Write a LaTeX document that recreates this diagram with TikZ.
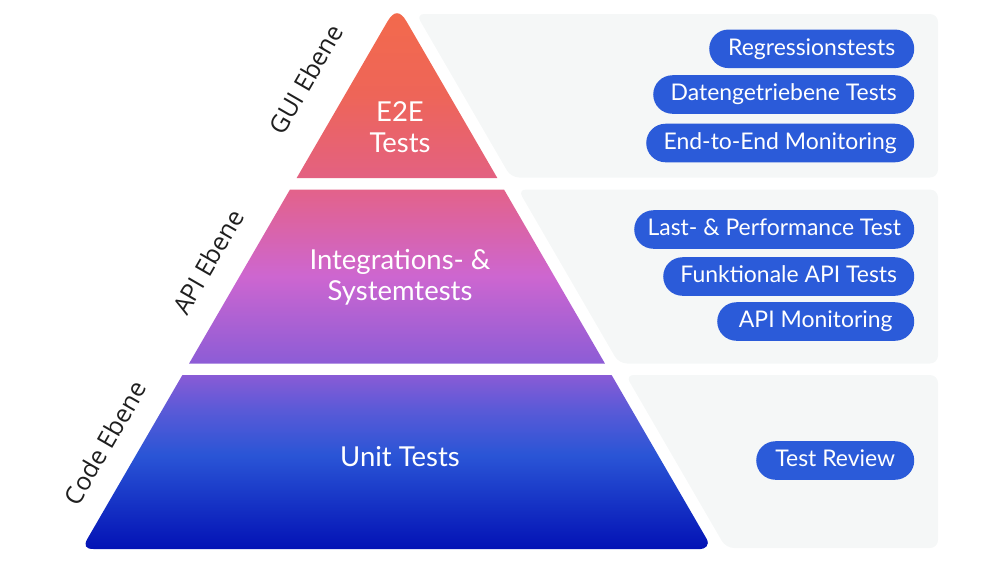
\documentclass[tikz,border=0pt]{standalone}
\usepackage{fontspec}
\setmainfont{Lato}
\newfontfamily\sidefont{Open Sans}
\definecolor{pillblue}{HTML}{2B5BD9}
\definecolor{panelgray}{HTML}{F5F7F7}
\definecolor{sidetext}{HTML}{1F1F1F}
\definecolor{tT}{HTML}{F36A4C}
\definecolor{tM}{HTML}{EE6558}
\definecolor{tB}{HTML}{E36182}
\definecolor{mT}{HTML}{E3628A}
\definecolor{mM}{HTML}{CD66D0}
\definecolor{mB}{HTML}{8C5CD6}
\definecolor{bT}{HTML}{895BD6}
\definecolor{bU}{HTML}{5A5AD7}
\definecolor{bM}{HTML}{2A55D6}
\definecolor{bB}{HTML}{0312B5}
\pgfdeclareverticalshading{shTop}{100bp}{color(0bp)=(tB); color(25bp)=(tB); color(50bp)=(tM); color(75bp)=(tT); color(100bp)=(tT)}
\pgfdeclareverticalshading{shMid}{100bp}{color(0bp)=(mB); color(25bp)=(mB); color(50bp)=(mM); color(75bp)=(mT); color(100bp)=(mT)}
\pgfdeclareverticalshading{shBot}{100bp}{color(0bp)=(bB); color(25bp)=(bB); color(52bp)=(bM); color(65bp)=(bU); color(75bp)=(bT); color(100bp)=(bT)}
\tikzset{
  pill/.style={fill=pillblue, text=white, rounded corners=14.4pt, minimum height=28.9pt,
    inner sep=0pt, anchor=east, font=\fontsize{17.2}{20}\selectfont,
    text height=12.3pt, text depth=2.6pt},
  mainlabel/.style={text=white, align=center, inner sep=0pt,
    font=\fontsize{20.6}{23.25}\selectfont},
  sidelabel/.style={text=sidetext, rotate=60, inner sep=0pt,
    font=\sidefont\fontsize{18.6}{22}\selectfont},
  panel/.style={fill=panelgray, rounded corners=6pt}
}
\begin{document}
\begin{tikzpicture}[x=0.75pt,y=-0.75pt]
\useasboundingbox (0,0) rectangle (1000,562);
% panels
\path[panel] (416.2,14) -- (938,14) -- (938,177.5) -- (511.05,177.5) -- cycle;
\path[panel] (518.01,189.5) -- (938,189.5) -- (938,363.5) -- (618.93,363.5) -- cycle;
\path[panel] (625.6,375) -- (938,375) -- (938,548) -- (725.94,548) -- cycle;
% pyramid layers
\shade[shading=shTop] (296.66,178) -- (387.47,21.44) .. controls (393.82,10.48) and (400.18,10.48) .. (406.53,21.44) -- (497.34,178) -- cycle;
\shade[shading=shMid] (289.99,189.5) -- (504.01,189.5) -- (604.93,363.5) -- (189.07,363.5) -- cycle;
\shade[shading=shBot] (182.4,375) -- (87.50,538.62) .. controls (83.49,545.54) and (85.48,549) .. (93.48,549) -- (700.52,549) .. controls (704.52,549) and (710.51,545.54) .. (706.50,538.62) -- (611.6,375) -- cycle;
% layer labels
\node[mainlabel] (e2e) at (400,127) {E2E\\Tests};
\node[mainlabel] (integ) at (400,277.5) {Integrations- \&\\Systemtests};
\node[mainlabel] (unit) at (400,457) {Unit Tests};
% side labels
\node[sidelabel] (gui) at (306,79) {GUI Ebene};
\node[sidelabel] (api) at (208,262) {API Ebene};
\node[sidelabel] (code) at (105,443) {Code Ebene};
% pills
\node[pill, minimum width=205*0.75pt] (p1) at (914.5,48.8) {Regressionstests};
\node[pill, minimum width=261*0.75pt] (p2) at (914.5,94.5) {Datengetriebene Tests};
\node[pill, minimum width=268*0.75pt] (p3) at (914.5,143) {End-to-End Monitoring};
\node[pill, minimum width=280*0.75pt] (p4) at (914.5,229.5) {Last- \& Performance Test};
\node[pill, minimum width=251*0.75pt] (p5) at (914.5,276.5) {Funktionale API Tests};
\node[pill, minimum width=197*0.75pt] (p6) at (914.5,321.5) {API Monitoring};
\node[pill, minimum width=158*0.75pt] (p7) at (914.5,460.5) {Test Review};
\end{tikzpicture}
\end{document}
